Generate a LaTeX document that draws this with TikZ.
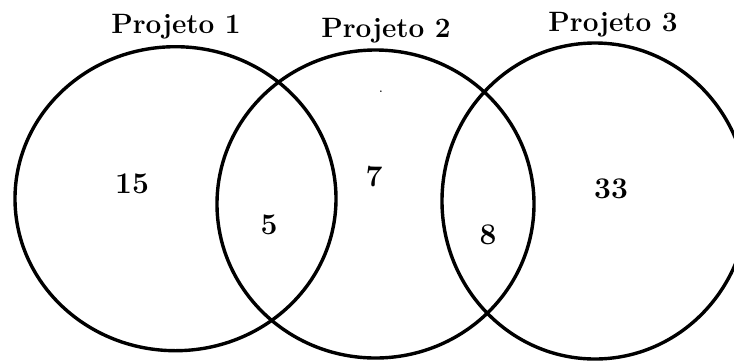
\documentclass[tikz,border=0pt]{standalone}
\usepackage{tikz}
\usetikzlibrary{shapes.geometric}
\tikzstyle{set}=[ellipse,draw=black,line width=3.4pt,inner sep=0pt]
\tikzstyle{title}=[anchor=base,inner sep=0pt,font=\fontsize{28}{30}\selectfont\bfseries]
\tikzstyle{count}=[anchor=base,inner sep=0pt,font=\fontsize{30}{32}\selectfont\bfseries]

\begin{document}
\begin{tikzpicture}[x=1pt,y=-1pt]
	\useasboundingbox (0,0) rectangle (734,360);
	\node [set,minimum width=321pt,minimum height=304pt] (proj1) at (175.5,198.7) {};
	\node [set,minimum width=317pt,minimum height=308pt] (proj2) at (375.5,204) {};
	\node [set,minimum width=306pt,minimum height=316pt] (proj3) at (595,201) {};
	% titulos
	\node [title] (t1) at (176,33) {Projeto 1};
	\node [title] (t2) at (386,37) {Projeto 2};
	\node [title] (t3) at (613,31) {Projeto 3};
	% valores
	\node [count] (n1) at (132,193) {15};
	\node [count] (n12) at (269,234) {5};
	\node [count] (n2) at (374,186) {7};
	\node [count] (n23) at (488,244) {8};
	\node [count] (n3) at (611,198) {33};
	\node [anchor=base,inner sep=0pt,font=\fontsize{10}{10}\selectfont\bfseries] (dot) at (381,92) {.};
\end{tikzpicture}
\end{document}
